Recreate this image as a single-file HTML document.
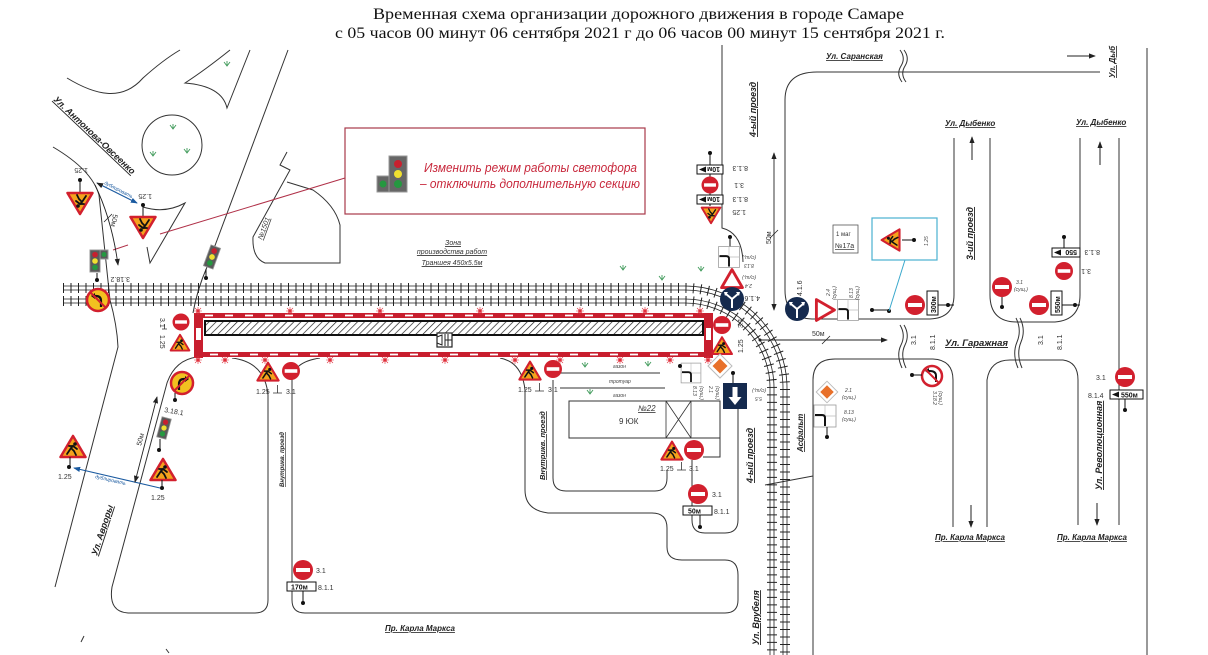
<!DOCTYPE html>
<html><head><meta charset="utf-8">
<style>
html,body{margin:0;padding:0;background:#fff;}
svg{display:block;}
text{font-family:"Liberation Sans",sans-serif;fill:#333;}
.t{font-family:"Liberation Serif",serif;font-size:16px;fill:#111;}
.st{font-style:italic;font-weight:bold;font-size:9px;text-decoration:underline;fill:#222;}
.sm{font-size:7px;fill:#333;}
.xs{font-size:5px;fill:#444;font-style:italic;}
.r{fill:none;stroke:#333;stroke-width:1;}
.bl{fill:#1a5aa0;font-size:5px;font-style:italic;}
</style></head><body>
<svg xmlns="http://www.w3.org/2000/svg" xmlns:xlink="http://www.w3.org/1999/xlink" width="1208" height="655" viewBox="0 0 1208 655">
<defs>
 <pattern id="hatch" width="5" height="5" patternUnits="userSpaceOnUse" patternTransform="rotate(45)"><rect width="5" height="5" fill="#fff"/><line x1="0" y1="0" x2="0" y2="5" stroke="#222" stroke-width="1.4"/></pattern>
 <marker id="ah" viewBox="0 0 8 8" markerWidth="7" markerHeight="7" refX="7" refY="4" orient="auto-start-reverse" markerUnits="userSpaceOnUse"><path d="M0,1 L8,4 L0,7Z" fill="#222"/></marker>
 <marker id="ahb" viewBox="0 0 8 8" markerWidth="7" markerHeight="7" refX="7" refY="4" orient="auto-start-reverse" markerUnits="userSpaceOnUse"><path d="M0,1 L8,4 L0,7Z" fill="#1a5aa0"/></marker>
 <g id="ne"><circle r="10" fill="#d2202e"/><rect x="-7" y="-2" width="14" height="4" fill="#fff"/></g>
 <g id="wk"><path d="M0,-11 L12.5,10 L-12.5,10Z" fill="#f4a21c" stroke="#d2202e" stroke-width="2.5" stroke-linejoin="round"/><circle cx="2" cy="-3" r="1.8" fill="#111"/><path d="M-6,7 L-2,1 L1,4 L3,8 M-2,1 L0,-1 L4,2 M0,-1 L-4,-1" stroke="#111" stroke-width="1.8" fill="none" stroke-linecap="round"/></g>
 <g id="tl"><rect x="-6" y="-13" width="12" height="26" fill="#5a5a5a" stroke="#999" stroke-width="1"/><circle cy="-7.5" r="3.3" fill="#c8202f"/><circle r="3.3" fill="#f0e030"/><circle cy="7.5" r="3.3" fill="#259840"/></g>
 <g id="b416"><circle r="12" fill="#152a4e"/><path d="M0,9 V0 M0,0 L-6,-5 M0,0 L6,-5" stroke="#fff" stroke-width="2" fill="none"/><path d="M-8,-7 L-4,-7 L-7,-3Z M8,-7 L4,-7 L7,-3Z" fill="#fff"/></g>
 <g id="t24"><path d="M0,-11 L11,8 L-11,8Z" fill="#fff" stroke="#d2202e" stroke-width="3" stroke-linejoin="round"/></g>
 <g id="d21"><path d="M0,-12 L12,0 L0,12 L-12,0Z" fill="#fff" stroke="#bbb" stroke-width="1"/><path d="M0,-7.5 L7.5,0 L0,7.5 L-7.5,0Z" fill="#e8702a"/></g>
 <g id="s55"><rect x="-12" y="-13" width="24" height="26" fill="#152a4e"/><path d="M-2.5,-9 H2.5 V1 H6.5 L0,9 L-6.5,1 H-2.5Z" fill="#fff"/></g>
 <g id="p813"><rect x="-11" y="-11" width="22" height="22" fill="#fff" stroke="#999" stroke-width="0.8"/><path d="M0,-11 V11 M-11,0 H11" stroke="#bbb" stroke-width="0.7"/><path d="M-10,-1 H-3 Q0,-1 0,2 V10" stroke="#111" stroke-width="2" fill="none"/></g>
 <g id="gr"><path d="M-3,-3 L0,1 L3,-3 M0,1 V-4" stroke="#3f9a5a" stroke-width="0.9" fill="none"/></g>
 <g id="fl"><circle r="1.8" fill="#e0303c"/><path d="M-4,0 H4 M0,-4 V4 M-3,-3 L3,3 M3,-3 L-3,3" stroke="#e0303c" stroke-width="0.6"/></g>
 <g id="s318"><circle r="11" fill="#f2c020" stroke="#d2202e" stroke-width="2.5"/><path d="M3,7 V1 Q3,-4 -2,-4 H-5" stroke="#111" stroke-width="2.2" fill="none"/><path d="M-7,-4 L-3,-7 L-3,-1Z" fill="#111"/><path d="M-7,-7 L7,7" stroke="#d2202e" stroke-width="2"/></g>
</defs>

<rect width="1208" height="655" fill="#fff"/>

<!-- Title -->
<text class="t" x="373" y="19" textLength="531" lengthAdjust="spacingAndGlyphs">Временная схема организации дорожного движения в городе Самаре</text>
<text class="t" x="335" y="38" textLength="610" lengthAdjust="spacingAndGlyphs">с 05 часов 00 минут 06 сентября 2021 г до 06 часов 00 минут 15 сентября 2021 г.</text>

<!-- ============ ROADS ============ -->
<g class="r">
 <path d="M67,78 C95,95 122,102 143,78 Q163,60 180,50"/>
 <path d="M230,50 Q205,70 185,83 Q222,86 227,108 L250,50"/>
 <path d="M288,50 L207,267 Q197,290 193,313"/>
 <circle cx="172" cy="145" r="30"/>
 <path d="M287,152 L280,165 L290,170 L253,237 Q252,258 265,263 L340,263 L340,225 Q335,205 313,190 L287,182"/>
 <path d="M53,147 Q92,170 99,195 L110,300 Q117,325 118,347 L55,587"/>
 <path d="M143,207 Q165,214 185,203 L150,263 L147,247"/>
 <path d="M197,357 Q175,360 167,383 L112,587 Q108,613 130,613 H255 Q268,613 268,600 V395 Q265,362 232,358"/>
 <path d="M320,358 Q293,362 292,380 V600 Q292,613 305,613 H725 Q738,613 738,600 V575 Q738,560 725,560 H682 Q667,560 667,547 V528 Q667,513 652,513 H548 Q525,510 525,490 V390 Q522,362 500,358"/>
 <path d="M553,380 V478 Q553,491 566,491 H655 Q667,491 667,478 V470"/>
 <path d="M738,407 V520 Q738,533 725,533 H705 Q692,533 692,520 V460"/>
 <path d="M720,438 V457 H703"/>
 <path d="M560,373 H660 M560,388 H665"/>
 <path d="M722,45 V228 Q742,233 743,262"/>
 <path d="M817,72 H1100"/>
 <path d="M817,72 Q785,72 785,100 V290 Q785,318 812,319 H930 Q954,318 954,295 V138"/>
 <path d="M990,138 V295 Q990,322 1017,322 H1055 Q1080,320 1080,295 V138"/>
 <path d="M1119,138 V525"/>
 <path d="M1147,48 V655"/>
 <path d="M813,655 V380 Q813,359 835,359 H933 Q953,360 953,380 V527"/>
 <path d="M987,527 V380 Q990,360 1010,360 H1063 Q1078,362 1078,380 V525"/>
 <path d="M765,485 L813,476"/>
 <path d="M900,50 Q906,58 901,66 Q896,74 902,82 M904,50 Q910,58 905,66 Q900,74 906,82"/>
 <path d="M900,325 Q906,335 901,345 Q896,355 902,368 M904,325 Q910,335 905,345 Q900,355 906,368"/>
 <path d="M1016,318 Q1022,330 1017,342 Q1012,354 1018,368 M1020,318 Q1026,330 1021,342 Q1016,354 1022,368"/>
</g>

<!-- building -->
<rect x="569" y="401" width="151" height="37" fill="none" stroke="#333" stroke-width="1"/>
<path d="M666,401 V438 M691,401 V438 M666,401 L691,438 M691,401 L666,438" stroke="#333" stroke-width="0.8" fill="none"/>
<text x="638" y="411" style="font-size:8px;font-style:italic;text-decoration:underline">№22</text>
<text x="619" y="424" style="font-size:8px">9 ЮК</text>
<text class="xs" x="613" y="368">газон</text>
<text class="xs" x="609" y="383">тротуар</text>
<text class="xs" x="613" y="397">газон</text>

<!-- ============ RAILWAY ============ -->
<g fill="none" stroke="#222">
 <path d="M63,288 H685 A100,100 0 0 1 785,388 V655" stroke-width="10" stroke-dasharray="1 6.5"/>
 <path d="M63,286 H685 A102,102 0 0 1 787,388 V655" stroke-width="0.8"/>
 <path d="M63,290 H685 A98,98 0 0 1 783,388 V655" stroke-width="0.8"/>
 <path d="M63,301 H685 A87,87 0 0 1 772,388 V655" stroke-width="10" stroke-dasharray="1 6.5"/>
 <path d="M63,299 H685 A89,89 0 0 1 774,388 V655" stroke-width="0.8"/>
 <path d="M63,303 H685 A85,85 0 0 1 770,388 V655" stroke-width="0.8"/>
</g>

<!-- grass -->
<use href="#gr" x="173" y="128"/><use href="#gr" x="153" y="155"/><use href="#gr" x="187" y="152"/>
<use href="#gr" x="227" y="65"/><use href="#gr" x="623" y="269"/><use href="#gr" x="662" y="279"/>
<use href="#gr" x="701" y="270"/><use href="#gr" x="585" y="366"/><use href="#gr" x="648" y="365"/>
<use href="#gr" x="590" y="393"/>

<!-- ============ RED NOTE BOX ============ -->
<path d="M345,178 L160,234" stroke="#b03048" stroke-width="1"/>
<path d="M128,245 L113,250" stroke="#b03048" stroke-width="1"/>
<rect x="345" y="128" width="300" height="86" fill="#fff" stroke="#a83a4a" stroke-width="1.2"/>
<rect x="389" y="156" width="18" height="36" fill="#666" stroke="#999"/>
<circle cx="398" cy="164" r="4" fill="#c8202f"/><circle cx="398" cy="174" r="4" fill="#f0e030"/><circle cx="398" cy="184" r="4" fill="#259840"/>
<rect x="377" y="176" width="12" height="16" fill="#666" stroke="#999"/><circle cx="383" cy="184" r="3.5" fill="#259840"/>
<text x="424" y="172" textLength="213" lengthAdjust="spacingAndGlyphs" style="font-size:12.5px;font-style:italic;fill:#c8283c">Изменить режим работы светофора</text>
<text x="420" y="188" textLength="220" lengthAdjust="spacingAndGlyphs" style="font-size:12.5px;font-style:italic;fill:#c8283c">– отключить дополнительную секцию</text>

<g style="font-size:7px;font-style:italic;text-decoration:underline" text-anchor="middle">
 <text x="453" y="245">Зона</text>
 <text x="452" y="254">производства работ</text>
 <text x="452" y="265">Траншея 450x5.5м</text>
</g>

<!-- ============ WORK ZONE ============ -->
<rect x="194" y="313" width="519" height="45" fill="#fff"/>
<rect x="205" y="321" width="498" height="14" fill="url(#hatch)" stroke="#111" stroke-width="2"/>
<rect x="194" y="313" width="519" height="5" fill="#c81e2e"/>
<rect x="194" y="352" width="519" height="5" fill="#c81e2e"/>
<line x1="205" y1="315.5" x2="703" y2="315.5" stroke="#fff" stroke-width="1.8" stroke-dasharray="8 12"/>
<line x1="210" y1="354.5" x2="703" y2="354.5" stroke="#fff" stroke-width="1.8" stroke-dasharray="8 12"/>
<rect x="194" y="313" width="9" height="45" fill="#c81e2e"/><rect x="196" y="328" width="5" height="12" fill="#fff"/>
<rect x="704" y="313" width="9" height="45" fill="#c81e2e"/><rect x="706" y="328" width="5" height="12" fill="#fff"/>
<g>
 <use href="#fl" x="198" y="311"/><use href="#fl" x="290" y="311"/><use href="#fl" x="380" y="311"/><use href="#fl" x="480" y="311"/>
 <use href="#fl" x="580" y="311"/><use href="#fl" x="645" y="311"/><use href="#fl" x="700" y="311"/>
 <use href="#fl" x="198" y="360"/><use href="#fl" x="225" y="360"/><use href="#fl" x="265" y="360"/><use href="#fl" x="330" y="360"/>
 <use href="#fl" x="385" y="360"/><use href="#fl" x="445" y="360"/><use href="#fl" x="515" y="360"/><use href="#fl" x="560" y="360"/>
 <use href="#fl" x="620" y="360"/><use href="#fl" x="670" y="360"/><use href="#fl" x="708" y="360"/>
</g>
<g transform="translate(437,333)">
 <rect x="0" y="0" width="15" height="14" fill="#fff" stroke="#222" stroke-width="1.2"/>
 <path d="M0,4 L5,2 V12 L0,10 M8,1 V13 M11,1 V13 M8,7 H15" stroke="#222" stroke-width="1" fill="none"/>
</g>

<!-- ============ SIGNS: zone ============ -->
<use href="#ne" transform="translate(181,322) scale(0.85)"/>
<use href="#wk" transform="translate(180,343) scale(0.75)"/>
<text class="sm" transform="translate(160,318) rotate(90)">3.1</text>
<text class="sm" transform="translate(160,335) rotate(90)">1.25</text>
<path d="M162,329 H167 M164.5,324 V329" stroke="#333" stroke-width="0.8"/>

<use href="#wk" transform="translate(268,372) scale(0.85)"/>
<use href="#ne" transform="translate(291,371) scale(0.9)"/>
<text class="sm" x="256" y="394">1.25</text><text class="sm" x="286" y="394">3.1</text>
<path d="M273,393 H282 M277.5,385 V393" stroke="#333" stroke-width="0.8"/>

<use href="#wk" transform="translate(530,371) scale(0.85)"/>
<use href="#ne" transform="translate(553,369) scale(0.9)"/>
<text class="sm" x="518" y="392">1.25</text><text class="sm" x="548" y="392">3.1</text>
<path d="M535,391 H544 M539.5,383 V391" stroke="#333" stroke-width="0.8"/>

<use href="#ne" transform="translate(722,325) scale(0.9)"/>
<use href="#wk" transform="translate(722,346) scale(0.8)"/>
<text class="sm" transform="translate(743,328) rotate(-90)">3.1</text>
<text class="sm" transform="translate(743,353) rotate(-90)">1.25</text>

<!-- ============ SIGNS: top-left ============ -->
<path d="M80,180 V192 M143,205 V216" stroke="#111" stroke-width="1"/>
<circle cx="80" cy="180" r="2" fill="#111"/><circle cx="143" cy="205" r="2" fill="#111"/>
<use href="#wk" transform="translate(80,203) rotate(180)"/>
<use href="#wk" transform="translate(143,227) rotate(180)"/>
<text class="sm" transform="translate(88,168) rotate(180)">1.25</text>
<text class="sm" transform="translate(152,194) rotate(180)">1.25</text>
<line x1="97" y1="183" x2="137" y2="203" stroke="#1a5aa0" stroke-width="1.2" marker-start="url(#ah)" marker-end="url(#ahb)"/>
<text class="bl" transform="translate(104,184) rotate(27)">дублировать</text>
<path d="M95,185 Q112,220 118,265" fill="none" stroke="#222" stroke-width="0.9" marker-end="url(#ah)"/>
<text class="sm" transform="translate(113,214) rotate(100)">50м</text>
<path d="M104,222 L112,214" stroke="#222" stroke-width="0.8"/>
<rect x="100" y="250" width="8" height="9" fill="#5a5a5a" stroke="#999"/><circle cx="104" cy="254.5" r="2.5" fill="#259840"/>
<use href="#tl" transform="translate(95,261) scale(0.85)"/>
<use href="#tl" transform="translate(212,257) rotate(20) scale(0.85)"/>
<path d="M97,273 V280 M206,269 V278" stroke="#111"/>
<circle cx="97" cy="280" r="2" fill="#111"/><circle cx="206" cy="278" r="2" fill="#111"/>
<text class="sm" transform="translate(130,277) rotate(180)">3.18.2</text>
<use href="#s318" transform="translate(98,300)"/>

<!-- ============ SIGNS: bottom-left ============ -->
<use href="#s318" transform="translate(182,383) scale(-1,1)"/>
<path d="M175,393 V400" stroke="#111"/><circle cx="175" cy="400" r="2" fill="#111"/>
<text class="sm" transform="translate(164,412) rotate(10)">3.18.1</text>
<use href="#tl" transform="translate(164,428) rotate(15) scale(0.8)"/>
<path d="M160,439 V450" stroke="#111"/><circle cx="159" cy="450" r="2" fill="#111"/>
<use href="#wk" transform="translate(163,470)"/>
<use href="#wk" transform="translate(73,447)"/>
<path d="M162,480 V488 M70,457 V467" stroke="#111"/>
<circle cx="162" cy="488" r="2" fill="#111"/><circle cx="69" cy="467" r="2" fill="#111"/>
<text class="sm" x="151" y="500">1.25</text><text class="sm" x="58" y="479">1.25</text>
<line x1="160" y1="488" x2="74" y2="468" stroke="#1a5aa0" stroke-width="1.1" marker-end="url(#ahb)"/>
<text class="bl" transform="translate(95,478) rotate(13)">дублировать</text>
<line x1="157" y1="397" x2="135" y2="482" stroke="#222" stroke-width="0.9" marker-start="url(#ah)" marker-end="url(#ah)"/>
<text class="sm" transform="translate(141,446) rotate(-75)">50м</text>
<text class="st" transform="translate(97,556) rotate(-72)">Ул. Авроры</text>
<path d="M84,636 L81,642 M166,649 L169,653" stroke="#333"/>

<!-- ============ SIGNS: top middle column ============ -->
<path d="M710,153 V206" stroke="#111"/><circle cx="710" cy="153" r="2" fill="#111"/>
<rect x="697" y="165" width="26" height="9" fill="#fff" stroke="#111"/>
<text transform="translate(720,167) rotate(180)" style="font-size:7px;font-weight:bold;fill:#111">10м</text>
<path d="M699,169.5 L706,166.5 V172.5Z" fill="#111"/>
<use href="#ne" transform="translate(710,185) scale(0.85)"/>
<rect x="697" y="195" width="26" height="9" fill="#fff" stroke="#111"/>
<text transform="translate(720,197) rotate(180)" style="font-size:7px;font-weight:bold;fill:#111">10м</text>
<path d="M699,199.5 L706,196.5 V202.5Z" fill="#111"/>
<use href="#wk" transform="translate(711,215) rotate(180) scale(0.75)"/>
<text class="sm" transform="translate(748,166) rotate(180)">8.1.3</text>
<text class="sm" transform="translate(744,183) rotate(180)">3.1</text>
<text class="sm" transform="translate(748,197) rotate(180)">8.1.3</text>
<text class="sm" transform="translate(746,210) rotate(180)">1.25</text>
<text class="st" transform="translate(756,137) rotate(-90)">4-ый проезд</text>

<path d="M730,237 V250" stroke="#111"/><circle cx="730" cy="237" r="2" fill="#111"/>
<use href="#p813" transform="translate(729,257) scale(0.95)"/>
<use href="#t24" transform="translate(732,280) scale(0.95)"/>
<use href="#b416" transform="translate(732,299)"/>
<text class="xs" transform="translate(756,256) rotate(180)">(сущ.)</text>
<text class="xs" transform="translate(754,264) rotate(180)">8.13</text>
<text class="xs" transform="translate(756,276) rotate(180)">(сущ.)</text>
<text class="xs" transform="translate(752,284) rotate(180)">2.4</text>
<text class="sm" transform="translate(760,296) rotate(180)">4.1.6</text>
<use href="#p813" transform="translate(691,373) scale(0.9)"/>
<circle cx="680" cy="366" r="2" fill="#111"/>
<use href="#d21" transform="translate(720,366)"/>
<text class="xs" transform="translate(693,386) rotate(90)">8.13</text>
<text class="xs" transform="translate(700,386) rotate(90)">(сущ.)</text>
<text class="xs" transform="translate(709,386) rotate(90)">2.1</text>
<text class="xs" transform="translate(716,386) rotate(90)">(сущ.)</text>
<path d="M733,373 V383" stroke="#111"/><circle cx="733" cy="373" r="2" fill="#111"/>
<use href="#s55" transform="translate(735,396)"/>
<text class="xs" transform="translate(766,389) rotate(180)">(сущ.)</text>
<text class="xs" transform="translate(762,397) rotate(180)">5.5</text>

<line x1="774" y1="153" x2="774" y2="310" stroke="#222" stroke-width="0.9" marker-start="url(#ah)" marker-end="url(#ah)"/>
<text class="sm" transform="translate(771,244) rotate(-90)">50м</text>
<path d="M770,238 L778,230" stroke="#222" stroke-width="0.8"/>
<line x1="760" y1="340" x2="887" y2="340" stroke="#222" stroke-width="0.9" marker-end="url(#ah)"/>
<circle cx="760" cy="340" r="1.5" fill="#222"/>
<text class="sm" x="812" y="336">50м</text>
<path d="M822,344 L830,336" stroke="#222" stroke-width="0.8"/>

<use href="#b416" transform="translate(797,309)"/>
<text class="sm" transform="translate(802,296) rotate(-90)">4.1.6</text>
<use href="#t24" transform="translate(824,310) rotate(90) scale(0.95)"/>
<text class="xs" transform="translate(830,296) rotate(-90)">2.4</text>
<text class="xs" transform="translate(836,300) rotate(-90)">(сущ.)</text>
<use href="#p813" transform="translate(848,310) scale(0.95)"/>
<text class="xs" transform="translate(853,298) rotate(-90)">8.13</text>
<text class="xs" transform="translate(859,300) rotate(-90)">(сущ.)</text>
<path d="M872,310 H889" stroke="#111"/><circle cx="872" cy="310" r="2" fill="#111"/><circle cx="889" cy="311" r="2" fill="#111"/>
<line x1="905" y1="260" x2="889" y2="311" stroke="#3aa8cc" stroke-width="1"/>
<rect x="872" y="218" width="65" height="42" fill="#fff" stroke="#4ab0d0" stroke-width="1.2"/>
<use href="#wk" transform="translate(891,240) rotate(-90) scale(0.85)"/>
<path d="M902,240 H914" stroke="#111"/><circle cx="914" cy="240" r="2" fill="#111"/>
<text class="xs" transform="translate(928,246) rotate(-90)">1.25</text>
<rect x="833" y="225" width="25" height="28" fill="#fff" stroke="#555" stroke-width="0.8"/>
<text x="836" y="236" style="font-size:6px">1 маг</text>
<text x="835" y="248" style="font-size:7px;text-decoration:underline">№17а</text>

<text class="st" x="826" y="59" style="font-size:8px">Ул. Саранская</text>
<line x1="1067" y1="56" x2="1095" y2="56" stroke="#222" stroke-width="1" marker-end="url(#ah)"/>
<text class="st" transform="translate(1115,78) rotate(-90)" style="font-size:8px">Ул. Дыб</text>
<text class="st" x="945" y="126" style="font-size:8px">Ул. Дыбенко</text>
<text class="st" x="1076" y="125" style="font-size:8px">Ул. Дыбенко</text>
<line x1="972" y1="160" x2="972" y2="137" stroke="#222" marker-end="url(#ah)"/>
<line x1="1100" y1="165" x2="1100" y2="142" stroke="#222" marker-end="url(#ah)"/>
<text class="st" transform="translate(973,260) rotate(-90)">3-ий проезд</text>

<use href="#ne" transform="translate(915,305)"/>
<rect x="927" y="291" width="11" height="24" fill="#fff" stroke="#111"/>
<text transform="translate(936,313) rotate(-90)" style="font-size:7px;font-weight:bold;fill:#111">300м</text>
<path d="M938,305 H954" stroke="#111"/><circle cx="948" cy="305" r="2" fill="#111"/>
<text class="sm" transform="translate(916,345) rotate(-90)">3.1</text>
<text class="sm" transform="translate(935,350) rotate(-90)">8.1.1</text>

<use href="#ne" transform="translate(1002,287)"/>
<path d="M1002,297 V307" stroke="#111"/><circle cx="1002" cy="307" r="2" fill="#111"/>
<text class="xs" x="1016" y="284">3.1</text><text class="xs" x="1014" y="291">(сущ.)</text>

<use href="#ne" transform="translate(1039,305)"/>
<rect x="1051" y="291" width="11" height="24" fill="#fff" stroke="#111"/>
<text transform="translate(1060,313) rotate(-90)" style="font-size:7px;font-weight:bold;fill:#111">550м</text>
<path d="M1062,305 H1080" stroke="#111"/><circle cx="1075" cy="305" r="2" fill="#111"/>
<text class="sm" transform="translate(1043,345) rotate(-90)">3.1</text>
<text class="sm" transform="translate(1062,350) rotate(-90)">8.1.1</text>

<use href="#ne" transform="translate(1064,271) scale(0.9)"/>
<rect x="1052" y="248" width="28" height="9" fill="#fff" stroke="#111"/>
<text transform="translate(1077,250) rotate(180)" style="font-size:7px;font-weight:bold;fill:#111">550</text>
<path d="M1054,252.5 L1061,249.5 V255.5Z" fill="#111"/>
<path d="M1064,237 V248" stroke="#111"/><circle cx="1064" cy="237" r="2" fill="#111"/>
<text class="sm" transform="translate(1100,250) rotate(180)">8.1.3</text>
<text class="sm" transform="translate(1091,269) rotate(180)">3.1</text>

<use href="#d21" transform="translate(827,392) scale(0.9)"/>
<text class="xs" x="845" y="392">2.1</text><text class="xs" x="842" y="399">(сущ.)</text>
<use href="#p813" transform="translate(825,416)"/>
<text class="xs" x="844" y="414">8.13</text><text class="xs" x="842" y="421">(сущ.)</text>
<path d="M827,427 V437" stroke="#111"/><circle cx="827" cy="437" r="2" fill="#111"/>
<circle cx="932" cy="376" r="10" fill="#fff" stroke="#d2202e" stroke-width="2.5"/>
<path d="M936,382 V376 Q936,371 930,371 H927" stroke="#111" stroke-width="2" fill="none"/>
<path d="M925,371 L929,368 L929,374Z" fill="#111"/>
<path d="M925,369 L939,383" stroke="#d2202e" stroke-width="2"/>
<path d="M912,375 H922" stroke="#111"/><circle cx="912" cy="375" r="2" fill="#111"/>
<text class="xs" transform="translate(933,391) rotate(90)">3.18.2</text>
<text class="xs" transform="translate(939,391) rotate(90)">(сущ.)</text>

<use href="#ne" transform="translate(1125,377)"/>
<text class="sm" x="1096" y="380">3.1</text>
<rect x="1110" y="390" width="33" height="9" fill="#fff" stroke="#111"/>
<path d="M1112,394.5 L1119,391.5 V397.5Z" fill="#111"/>
<text x="1121" y="397.5" style="font-size:7px;font-weight:bold;fill:#111">550м</text>
<text class="sm" x="1088" y="398">8.1.4</text>
<path d="M1125,399 V410" stroke="#111"/><circle cx="1125" cy="410" r="2" fill="#111"/>

<text class="st" x="945" y="346" style="font-size:9.5px">Ул. Гаражная</text>
<text class="st" transform="translate(1102,490) rotate(-90)">Ул. Революционная</text>
<line x1="971" y1="505" x2="971" y2="527" stroke="#222" marker-end="url(#ah)"/>
<line x1="1097" y1="503" x2="1097" y2="525" stroke="#222" marker-end="url(#ah)"/>
<text class="st" x="935" y="540" style="font-size:8px">Пр. Карла Маркса</text>
<text class="st" x="1057" y="540" style="font-size:8px">Пр. Карла Маркса</text>
<text class="st" transform="translate(803,452) rotate(-90)" style="font-size:8px">Асфальт</text>
<text class="st" transform="translate(753,483) rotate(-90)">4-ый проезд</text>

<use href="#wk" transform="translate(672,451) scale(0.85)"/>
<use href="#ne" transform="translate(694,450)"/>
<text class="sm" x="660" y="471">1.25</text><text class="sm" x="689" y="471">3.1</text>
<path d="M677,470 H686 M681.5,462 V470" stroke="#333" stroke-width="0.8"/>
<use href="#ne" transform="translate(698,494)"/>
<text class="sm" x="712" y="497">3.1</text>
<rect x="683" y="506" width="29" height="9" fill="#fff" stroke="#111"/>
<text x="688" y="513.5" style="font-size:7px;font-weight:bold;fill:#111">50м</text>
<text class="sm" x="714" y="514">8.1.1</text>
<path d="M700,515 V527" stroke="#111"/><circle cx="700" cy="527" r="2" fill="#111"/>

<use href="#ne" transform="translate(303,570)"/>
<text class="sm" x="316" y="573">3.1</text>
<rect x="287" y="582" width="29" height="9" fill="#fff" stroke="#111"/>
<text x="291" y="589.5" style="font-size:7px;font-weight:bold;fill:#111">170м</text>
<text class="sm" x="318" y="590">8.1.1</text>
<path d="M303,591 V603" stroke="#111"/><circle cx="303" cy="603" r="2" fill="#111"/>

<text class="st" transform="translate(284,487) rotate(-90)" style="font-size:6px" textLength="55" lengthAdjust="spacingAndGlyphs">Внутрикв. проезд</text>
<text class="st" transform="translate(545,480) rotate(-90)" style="font-size:7.5px">Внутрикв. проезд</text>
<text class="st" x="385" y="631" style="font-size:8px">Пр. Карла Маркса</text>
<text class="st" transform="translate(759,645) rotate(-90)">Ул. Врубеля</text>

<text class="st" transform="translate(53,100) rotate(43.5)">Ул. Антонова-Овсеенко</text>
<text transform="translate(262,240) rotate(-70)" style="font-size:7px;font-style:italic;text-decoration:underline">№1501</text>
</svg>
</body></html>
